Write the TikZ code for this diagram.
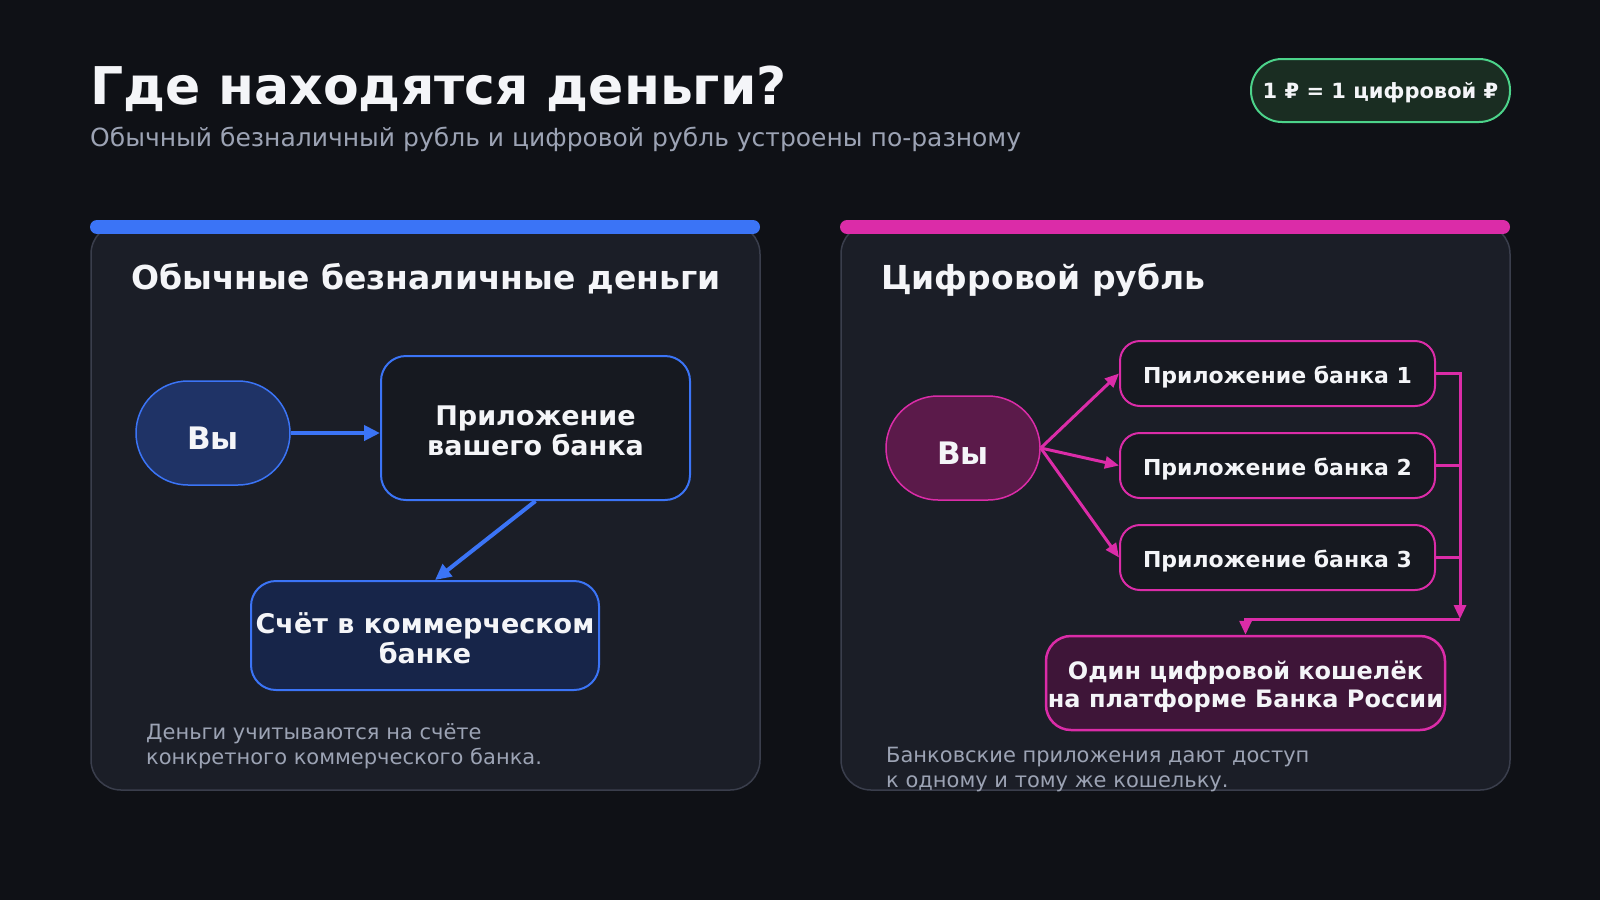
\documentclass[tikz,border=0pt]{standalone}
\usepackage{fontspec}
\setmainfont{DejaVu Sans}
\usetikzlibrary{positioning, arrows.meta}

\definecolor{pagebg}{HTML}{0F1116}
\definecolor{cardbg}{HTML}{1B1E27}
\definecolor{cardline}{HTML}{3A3E4C}
\definecolor{boxbg}{HTML}{161920}
\definecolor{blueline}{HTML}{3B74F6}
\definecolor{bluepill}{HTML}{1F3366}
\definecolor{bluebox}{HTML}{172549}
\definecolor{pinkline}{HTML}{DB2CA8}
\definecolor{pinkpill}{HTML}{5B1A4A}
\definecolor{pinkbox}{HTML}{3E1538}
\definecolor{greenline}{HTML}{4CD38A}
\definecolor{greenbg}{HTML}{1A2D22}
\definecolor{titlewhite}{HTML}{F4F5F8}
\definecolor{subgray}{HTML}{9CA3B4}

\begin{document}
\begin{tikzpicture}[
    x=1pt, y=-1pt,
    % card background and its coloured strip
    card/.style={draw=cardline, fill=cardbg, line width=1.5pt, rounded corners=30pt},
    topbar/.style={line width=14pt, line cap=round},
    heading/.style={anchor=base west, inner sep=0pt, text=titlewhite, font=\fontsize{33}{38}\selectfont\bfseries},
    pill/.style={rectangle, draw, rounded corners=52pt, minimum width=154pt, minimum height=104pt, line width=1.5pt, text height=32pt, text depth=0pt, text=titlewhite, font=\fontsize{31}{36}\selectfont\bfseries},
    box/.style={rectangle, draw, rounded corners=25pt, align=center, inner sep=0pt, line width=2pt, text depth=0pt, text=titlewhite, font=\fontsize{27}{30}\selectfont\bfseries},
    appbox/.style={rectangle, draw=pinkline, fill=boxbg, rounded corners=20pt, minimum width=315pt, minimum height=65pt, line width=2pt, text height=20pt, text depth=0pt, text=titlewhite, font=\fontsize{22}{25}\selectfont\bfseries},
    arrow/.style={-{Triangle[length=16pt, width=15pt]}, line width=4pt},
    thinarrow/.style={-{Triangle[length=14pt, width=12pt]}, line width=3pt},
    note/.style={anchor=base west, align=left, inner sep=0pt, text=subgray, font=\fontsize{21}{24.5}\selectfont}
]
    \useasboundingbox (0,0) rectangle (1600,900);
    \fill[pagebg] (0,0) rectangle (1600,900);

    % --- Header ---
    \node[anchor=base west, inner sep=0pt, text=titlewhite, font=\fontsize{52}{60}\selectfont\bfseries] (title) at (90,104) {Где находятся деньги?};
    \node[anchor=base west, inner sep=0pt, text=subgray, font=\fontsize{25}{28}\selectfont] (subtitle) at (90,146) {Обычный безналичный рубль и цифровой рубль устроены по-разному};
    \node[rectangle, draw=greenline, fill=greenbg, line width=2pt, rounded corners=31pt, minimum width=259pt, minimum height=63pt, text height=16pt, text depth=0pt, text=titlewhite, font=\fontsize{21}{24}\selectfont\bfseries] (badge) at (1380.5,90.5) {1 ₽ = 1 цифровой ₽};

    % --- Cards ---
    \draw[card] (91,224) rectangle (760,790);
    \draw[card] (841,224) rectangle (1510,790);
    \draw[topbar, blueline] (97,227) -- (753,227);
    \draw[topbar, pinkline] (847,227) -- (1503,227);
    \node[heading] (lefthead) at (131,289) {Обычные безналичные деньги};
    \node[heading] (righthead) at (881,289) {Цифровой рубль};

    % --- Left card: ordinary money ---
    \node[pill, draw=blueline, fill=bluepill] (you1) at (213,433) {Вы};
    \node[box, draw=blueline, fill=boxbg, minimum width=309pt, minimum height=144pt, text height=54pt] (bankapp) at (535.5,428) {Приложение\\вашего банка};
    \node[box, draw=blueline, fill=bluebox, minimum width=348pt, minimum height=109pt, text height=55pt] (account) at (425,635.5) {Счёт в коммерческом\\банке};

    \draw[arrow, blueline] (you1.east) -- (you1.east -| bankapp.west);
    \draw[arrow, blueline] (bankapp.south) -- ([xshift=10pt]account.north);

    \node[note] (leftnote) at (146,764) {Деньги учитываются на счёте\\конкретного коммерческого банка.};

    % --- Right card: digital rouble ---
    \node[pill, draw=pinkline, fill=pinkpill] (you2) at (963,448) {Вы};
    \node[appbox] (app1) at (1277.5,373.5) {Приложение банка 1};
    \node[appbox] (app2) at (1277.5,465.5) {Приложение банка 2};
    \node[appbox] (app3) at (1277.5,557.5) {Приложение банка 3};
    \node[box, draw=pinkline, fill=pinkbox, line width=2.5pt, minimum width=399pt, minimum height=94pt, text height=48pt, font=\fontsize{24}{28}\selectfont\bfseries] (wallet) at (1245.5,683) {Один цифровой кошелёк\\на платформе Банка России};

    \draw[thinarrow, pinkline] (you2.east) -- (app1.west);
    \draw[thinarrow, pinkline] (you2.east) -- (app2.west);
    \draw[thinarrow, pinkline] (you2.east) -- (app3.west);

    % apps join one line down to the wallet
    \coordinate (busend) at (1460,619);
    \draw[thinarrow, pinkline] (app1.east) -- (app1.east -| busend) -- (busend);
    \draw[pinkline, line width=3pt] (app2.east) -- (app2.east -| busend);
    \draw[pinkline, line width=3pt] (app3.east) -- (app3.east -| busend);
    \draw[thinarrow, pinkline] (busend) -| (wallet.north);

    \node[note] (rightnote) at (886,787) {Банковские приложения дают доступ\\к одному и тому же кошельку.};
\end{tikzpicture}
\end{document}
